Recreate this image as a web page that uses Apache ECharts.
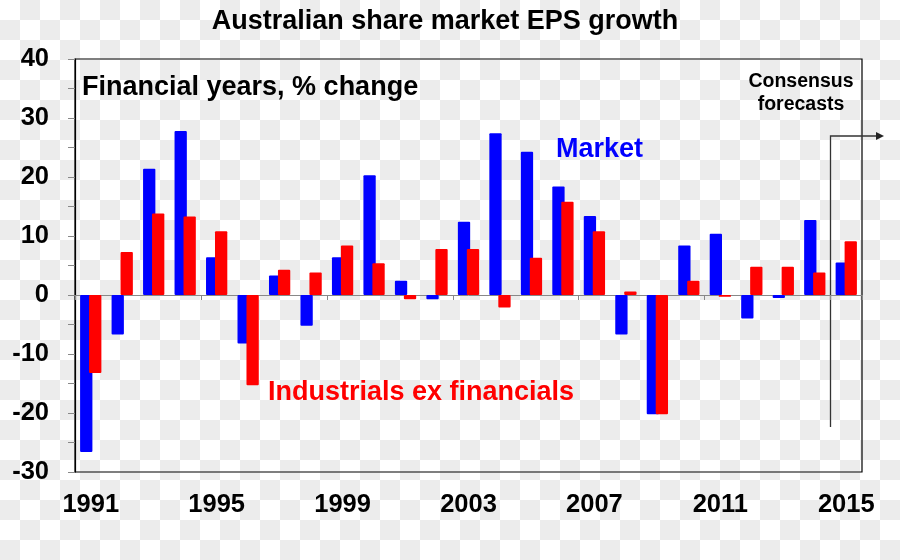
<!DOCTYPE html>
<html>
<head>
<meta charset="utf-8">
<script src="https://cdn.jsdelivr.net/npm/echarts@6/dist/echarts.min.js"></script>
<style>
html,body{margin:0;padding:0;width:900px;height:560px;overflow:hidden;
background:repeating-conic-gradient(#ececec 0 25%, #ffffff 0 50%) 0 0/40px 40px;}
#c{width:900px;height:560px;}
</style>
</head>
<body>
<div id="c"></div>
<script>
const years = ['1991','1992','1993','1994','1995','1996','1997','1998','1999','2000','2001','2002','2003','2004','2005','2006','2007','2008','2009','2010','2011','2012','2013','2014','2015'];
const market = [-26.6,-6.7,21.4,27.8,6.4,-8.2,3.3,-5.2,6.4,20.3,2.4,-0.7,12.4,27.4,24.3,18.4,13.4,-6.7,-20.2,8.4,10.4,-4.0,-0.5,12.7,5.5];
const industrials = [-13.2,7.3,13.8,13.3,10.8,-15.3,4.3,3.8,8.4,5.4,-0.7,7.8,7.8,-2.1,6.3,15.8,10.8,0.6,-20.2,2.4,-0.3,4.8,4.8,3.8,9.1];
const yTicks = [-30,-20,-10,0,10,20,30,40];

const FONT = 'Liberation Sans, Arial, sans-serif';
const chart = echarts.init(document.getElementById('c'), null, {renderer:'canvas'});
chart.setOption({
  backgroundColor: 'transparent',
  animation: false,
  title: {
    text: 'Australian share market EPS growth',
    left: 440, top: 3, textAlign: 'center',
    textStyle: {fontFamily: FONT, fontWeight: 'bold', fontSize: 27, color: '#000'}
  },
  grid: {left: 75, right: 38, top: 59, bottom: 88, show: true, borderColor: '#000', borderWidth: 1.2, backgroundColor: 'transparent'},
  xAxis: [
    {type: 'category', data: years, position: 'bottom',
     axisLine: {show: false, onZero: false},
     axisTick: {show: false},
     axisLabel: {interval: 3, margin: 20, fontFamily: FONT, fontWeight: 'bold', fontSize: 25.5, color: '#000'}},
    {type: 'category', data: years, position: 'top',
     axisLine: {show: true, onZero: true, lineStyle: {color: '#888', width: 1}},
     axisTick: {show: true, interval: 3, inside: true, length: 5, lineStyle: {color: '#888'}},
     axisLabel: {show: false}}
  ],
  yAxis: {
    type: 'value', min: -30, max: 40, interval: 10,
    axisLine: {show: true, lineStyle: {color: '#000', width: 1.2}},
    axisTick: {show: true, length: 7, lineStyle: {color: '#888'}},
    minorTick: {show: true, splitNumber: 2, length: 7, lineStyle: {color: '#888'}},
    splitLine: {show: false},
    axisLabel: {margin: 26, fontFamily: FONT, fontWeight: 'bold', fontSize: 25.5, color: '#000',
      formatter: v => yTicks.includes(v) ? String(v) : ''}
  },
  series: [
    {name: 'Market', type: 'bar', data: market, xAxisIndex: 0,
     itemStyle: {color: '#0000ff', borderRadius: 1},
     barWidth: 12.3, barGap: '-27%', barCategoryGap: '32%'},
    {name: 'Industrials ex financials', type: 'bar', data: industrials, xAxisIndex: 0,
     itemStyle: {color: '#ff0000', borderRadius: 1},
     barWidth: 12.3, barGap: '-27%', barCategoryGap: '32%'}
  ],
  graphic: [
    {type: 'text', left: 82, top: 74, style: {text: 'Financial years, % change', fontFamily: FONT, fontWeight: 'bold', fontSize: 27, fill: '#000'}},
    {type: 'text', left: 556, top: 136, style: {text: 'Market', fontFamily: FONT, fontWeight: 'bold', fontSize: 27, fill: '#0000ff'}},
    {type: 'text', left: 268, top: 379, style: {text: 'Industrials ex financials', fontFamily: FONT, fontWeight: 'bold', fontSize: 27, fill: '#ff0000'}},
    {type: 'text', x: 801, y: 82, style: {text: 'Consensus', fontFamily: FONT, fontWeight: 'bold', fontSize: 19.5, fill: '#000', align: 'center', verticalAlign: 'middle'}},
    {type: 'text', x: 801, y: 105, style: {text: 'forecasts', fontFamily: FONT, fontWeight: 'bold', fontSize: 19.5, fill: '#000', align: 'center', verticalAlign: 'middle'}},
    {type: 'polyline', shape: {points: [[830.5,427],[830.5,136],[876,136]]}, style: {stroke: '#333', lineWidth: 1.3, fill: null}},
    {type: 'polygon', shape: {points: [[876,132],[884,136],[876,140]]}, style: {fill: '#222'}}
  ]
});
</script>
</body>
</html>
